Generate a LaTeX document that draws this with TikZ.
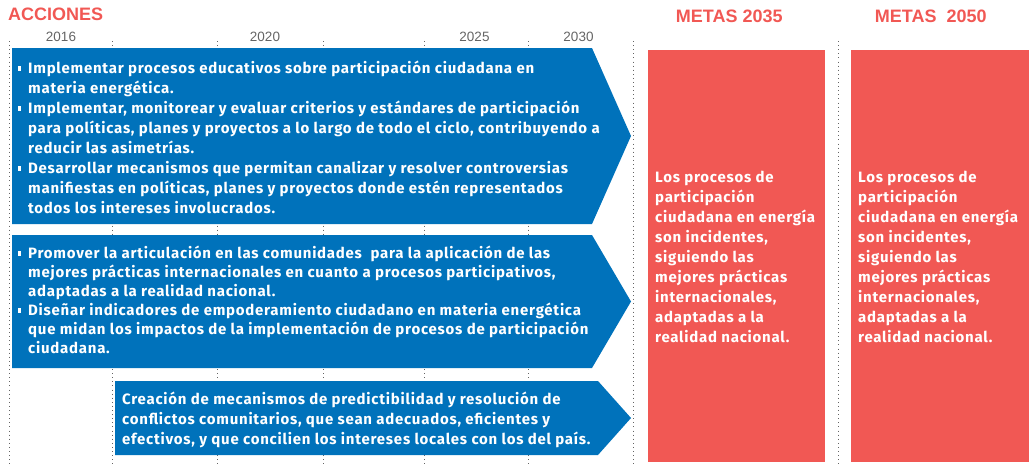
\documentclass[tikz,border=0pt]{standalone}
\usepackage{fontspec}
\setmainfont{Liberation Sans}
\newfontfamily\bodyfont[LetterSpace=5]{Fira Sans}
\usepackage{tikz}
\usetikzlibrary{positioning}
\definecolor{accblue}{RGB}{0, 114, 187}
\definecolor{metared}{RGB}{241, 88, 84}
\definecolor{yeargray}{RGB}{100, 100, 100}
\newcommand{\itm}{\makebox[10pt][l]{\rule[2.5pt]{2.4pt}{5pt}}}
\newcommand{\ind}{\hspace*{10pt}}

\begin{document}
\begin{tikzpicture}[
    x=1pt, y=-1pt,
    title/.style={font=\fontsize{18}{20}\selectfont\bfseries, text=metared, anchor=base, inner sep=0},
    yearlbl/.style={font=\fontsize{13.5}{15}\selectfont, text=yeargray, anchor=base, inner sep=0},
    grid/.style={yeargray, line width=0.9pt, dash pattern=on 0.9pt off 3.2pt},
    actbox/.style={fill=accblue},
    goalbox/.style={fill=metared},
    bodytxt/.style={font=\bodyfont\fontsize{15}{#1}\selectfont\bfseries, text=white, align=left, anchor=base west, inner sep=0},
    bodytxt/.default=20
]
\useasboundingbox (0,0) rectangle (1029,467);

% Headings
\node[title, anchor=base west] (acc) at (8,20.7) {ACCIONES};
\node[title] (m35) at (729.3,22.7) {METAS 2035};
\node[title] (m50) at (930.8,22.7) {METAS\ \ 2050};

% Timeline
\foreach \x/\yr in {61/2016, 265/2020, 474.5/2025, 578.5/2030} {
    \node[yearlbl] (y\yr) at (\x,41.5) {\yr};
}
\foreach \x in {9, 112, 217, 323, 424, 528, 633, 838} {
    \draw[grid] (\x,41) -- (\x,467);
}

% Actions (anchored at the baseline of the last line)
\fill[actbox] (12,48) -- (592,48) -- (631,136) -- (592,224) -- (12,224) -- cycle;
\fill[actbox] (12,235) -- (592,235) -- (631,301.5) -- (592,368) -- (12,368) -- cycle;
\fill[actbox] (115,381) -- (598,381) -- (631,418) -- (598,455) -- (115,455) -- cycle;

\node[bodytxt] (act1) at (18,213.3) {\itm Implementar procesos educativos sobre participación ciudadana en\\
\ind materia energética.\\
\itm Implementar, monitorear y evaluar criterios y estándares de participación\\
\ind para políticas, planes y proyectos a lo largo de todo el ciclo, contribuyendo a\\
\ind reducir las asimetrías.\\
\itm Desarrollar mecanismos que permitan canalizar y resolver controversias\\
\ind manifiestas en políticas, planes y proyectos donde estén representados\\
\ind todos los intereses involucrados.};

\node[bodytxt=19] (act2) at (18,353) {\itm Promover la articulación en las comunidades\ \ para la aplicación de las\\
\ind mejores prácticas internacionales en cuanto a procesos participativos,\\
\ind adaptadas a la realidad nacional.\\
\itm Diseñar indicadores de empoderamiento ciudadano en materia energética\\
\ind que midan los impactos de la implementación de procesos de participación\\
\ind ciudadana.};

\node[bodytxt] (act3) at (122,444.3) {Creación de mecanismos de predictibilidad y resolución de\\
conflictos comunitarios, que sean adecuados, eficientes y\\
efectivos, y que concilien los intereses locales con los del país.};

% Goals
\fill[goalbox] (648,50) rectangle (825,462);
\fill[goalbox] (851,50) rectangle (1029,462);

\node[bodytxt] (goal35) at (655,342.5) {Los procesos de\\ participación\\ ciudadana en energía\\ son incidentes,\\ siguiendo las\\ mejores prácticas\\ internacionales,\\ adaptadas a la\\ realidad nacional.};
\node[bodytxt] (goal50) at (858,342.5) {Los procesos de\\ participación\\ ciudadana en energía\\ son incidentes,\\ siguiendo las\\ mejores prácticas\\ internacionales,\\ adaptadas a la\\ realidad nacional.};

\end{tikzpicture}
\end{document}
